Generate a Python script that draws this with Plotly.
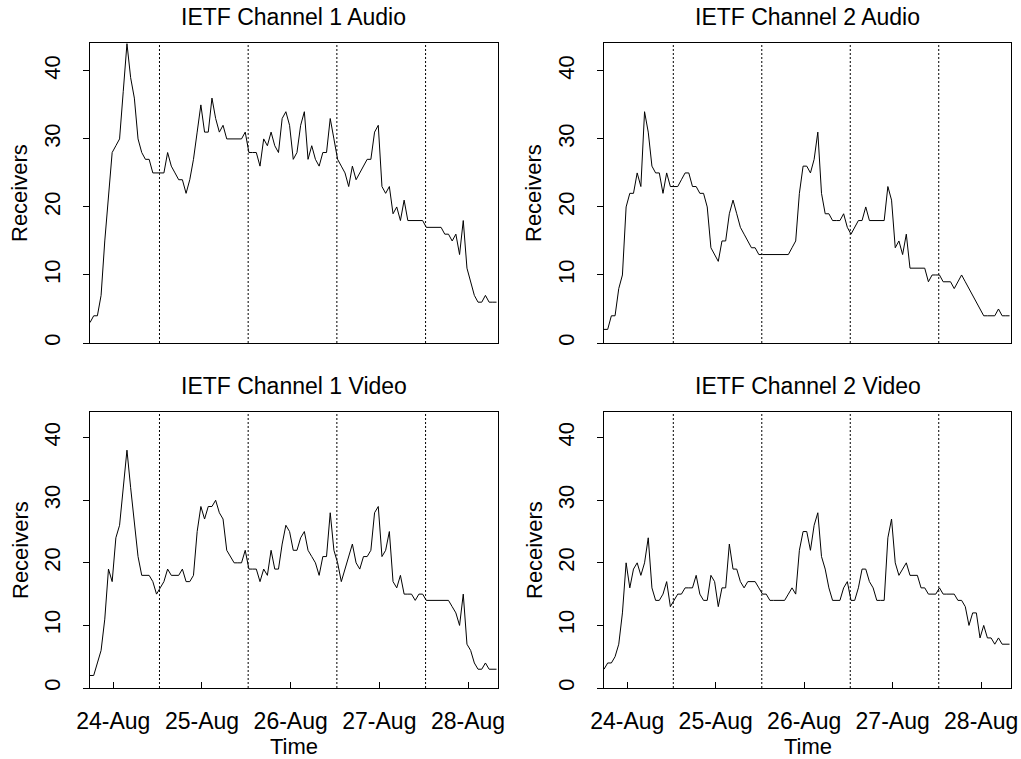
import pandas as pd
import plotly.graph_objects as go

# ---- data ----
hours = list(range(111))          # hours since start of the capture
start_time = "2001-08-23 17:42"

ch1_audio = [3, 4, 4, 7, 15, 22, 28, 29, 30, 37,
             44, 39, 36, 30, 28, 27, 27, 25, 25, 25,
             25, 28, 26, 25, 24, 24, 22, 24, 27, 31,
             35, 31, 31, 36, 33, 31, 32, 30, 30, 30,
             30, 30, 31, 28, 28, 28, 26, 30, 29, 31,
             29, 28, 33, 34, 32, 27, 28, 32, 34, 27,
             29, 27, 26, 28, 28, 33, 30, 27, 26, 25,
             23, 26, 24, 25, 26, 27, 27, 31, 32, 23,
             22, 23, 19, 20, 18, 21, 18, 18, 18, 18,
             18, 17, 17, 17, 17, 17, 16, 16, 15, 16,
             13, 18, 11, 9, 7, 6, 6, 7, 6, 6, 6]

ch2_audio = [2, 2, 4, 4, 8, 10, 20, 22, 22, 25,
             23, 34, 31, 26, 25, 25, 22, 25, 23, 23,
             23, 24, 25, 25, 23, 23, 22, 22, 20, 14,
             13, 12, 15, 15, 19, 21, 19, 17, 16, 15,
             14, 14, 13, 13, 13, 13, 13, 13, 13, 13,
             13, 14, 15, 22, 26, 26, 25, 27, 31, 22,
             19, 19, 18, 18, 18, 19, 17, 16, 17, 18,
             18, 20, 18, 18, 18, 18, 18, 23, 21, 14,
             15, 13, 16, 11, 11, 11, 11, 11, 9, 10,
             10, 10, 9, 9, 9, 8, 9, 10, 9, 8,
             7, 6, 5, 4, 4, 4, 4, 5, 4, 4, 4]

ch1_video = [2, 2, 4, 6, 11, 19, 17, 24, 26, 32,
             38, 32, 27, 21, 18, 18, 18, 17, 15, 16,
             17, 19, 18, 18, 18, 19, 17, 17, 18, 25,
             29, 27, 29, 29, 30, 28, 27, 22, 21, 20,
             20, 20, 22, 19, 19, 19, 17, 19, 18, 22,
             19, 19, 23, 26, 25, 22, 22, 24, 25, 22,
             21, 20, 18, 21, 21, 28, 22, 20, 17, 19,
             21, 23, 20, 19, 21, 21, 22, 28, 29, 21,
             22, 25, 17, 16, 18, 15, 15, 15, 14, 15,
             15, 14, 14, 14, 14, 14, 14, 14, 13, 12,
             10, 15, 7, 6, 4, 3, 3, 4, 3, 3, 3]

ch2_video = [3, 4, 4, 5, 7, 12, 20, 16, 19, 20,
             18, 20, 24, 16, 14, 14, 15, 17, 13, 14,
             15, 15, 16, 16, 16, 18, 15, 14, 14, 18,
             17, 13, 16, 16, 23, 19, 19, 17, 16, 17,
             17, 17, 16, 15, 15, 14, 14, 14, 14, 14,
             15, 16, 15, 22, 25, 25, 22, 26, 28, 21,
             19, 16, 14, 14, 14, 16, 17, 14, 14, 16,
             19, 19, 17, 16, 14, 14, 14, 24, 27, 20,
             18, 19, 20, 18, 18, 18, 16, 16, 15, 15,
             15, 16, 15, 15, 15, 15, 14, 14, 13, 10,
             12, 12, 8, 10, 8, 8, 7, 8, 7, 7, 7]

panel_titles = ["IETF Channel 1 Audio", "IETF Channel 2 Audio",
                "IETF Channel 1 Video", "IETF Channel 2 Video"]
day_ticks = ["2001-08-24", "2001-08-25", "2001-08-26", "2001-08-27", "2001-08-28"]
day_labels = ["24-Aug", "25-Aug", "26-Aug", "27-Aug", "28-Aug"]
day_breaks = ["2001-08-24 12:30", "2001-08-25 12:30", "2001-08-26 12:30", "2001-08-27 12:30"]
y_ticks = [0, 10, 20, 30, 40]
y_labels = ["0", "10", "20", "30", "40"]
y_title = "Receivers"
x_title = "Time"

# ---- figure ----
W, H = 1021, 759
FONT = "Liberation Sans, Arial, Helvetica, sans-serif"
t0 = pd.Timestamp(start_time)
t = t0 + pd.to_timedelta(hours, unit="h")
t_end = t0 + pd.Timedelta(hours=110.4)

xdom = [[90 / W, 498 / W], [604 / W, 1011 / W]]
ydom = [[1 - 343 / H, 1 - 43 / H], [1 - 688 / H, 1 - 412 / H]]

fig = go.Figure()
series = [ch1_audio, ch2_audio, ch1_video, ch2_video]
annotations = []
shapes = []
for i, vals in enumerate(series):
    r, c = divmod(i, 2)
    n = i + 1
    sfx = "" if n == 1 else str(n)
    fig.add_trace(go.Scatter(x=t, y=vals, mode="lines",
                             line=dict(color="black", width=1),
                             xaxis="x" + sfx, yaxis="y" + sfx,
                             showlegend=False, hoverinfo="skip"))
    fig.layout["xaxis" + sfx] = dict(
        domain=xdom[c], anchor="y" + sfx, type="date", automargin=False,
        range=[t0, t_end], showline=True, mirror=True,
        linecolor="black", linewidth=1, showgrid=False, zeroline=False,
        tickmode="array", tickvals=day_ticks, ticktext=day_labels,
        ticks="inside" if r == 1 else "", ticklen=6, tickcolor="black",
        tickwidth=1, showticklabels=(r == 1), ticklabelstandoff=12,
        tickfont=dict(size=23, color="black", family=FONT))
    fig.layout["yaxis" + sfx] = dict(
        domain=ydom[r], anchor="x" + sfx, range=[0, 44.1], automargin=False,
        showline=True, mirror=True, linecolor="black", linewidth=1,
        showgrid=False, zeroline=False, tickmode="array",
        tickvals=y_ticks, ticktext=y_labels, ticks="outside",
        ticklen=6, tickcolor="black", tickwidth=1, tickangle=-90,
        ticklabelstandoff=14,
        tickfont=dict(size=22, color="black", family=FONT))
    for b in day_breaks:
        shapes.append(dict(type="line", xref="x" + sfx, yref="y" + sfx + " domain",
                           x0=b, x1=b, y0=0, y1=1,
                           line=dict(color="black", width=1, dash="2px,2px")))
    # panel title
    ty = 17 if r == 0 else 386
    annotations.append(dict(text=panel_titles[i], xref="paper", yref="paper",
                            x=(xdom[c][0] + xdom[c][1]) / 2, y=1 - ty / H,
                            xanchor="center", yanchor="middle", showarrow=False,
                            font=dict(size=23, color="black", family=FONT)))
    # y title
    yc = (43 + 343) / 2 if r == 0 else (412 + 688) / 2
    xl = 20 if c == 0 else 534
    annotations.append(dict(text=y_title, xref="paper", yref="paper",
                            x=xl / W, y=1 - yc / H, textangle=-90,
                            xanchor="center", yanchor="middle", showarrow=False,
                            font=dict(size=22, color="black", family=FONT)))
    if r == 1:
        annotations.append(dict(text=x_title, xref="paper", yref="paper",
                                x=(xdom[c][0] + xdom[c][1]) / 2, y=1 - 746 / H,
                                xanchor="center", yanchor="middle", showarrow=False,
                                font=dict(size=22, color="black", family=FONT)))

fig.update_layout(width=W, height=H, margin=dict(l=0, r=0, t=0, b=0),
                  template="none",
                  paper_bgcolor="white", plot_bgcolor="white",
                  annotations=annotations, shapes=shapes,
                  font=dict(family=FONT, color="black"))
fig.write_html("out.html")
